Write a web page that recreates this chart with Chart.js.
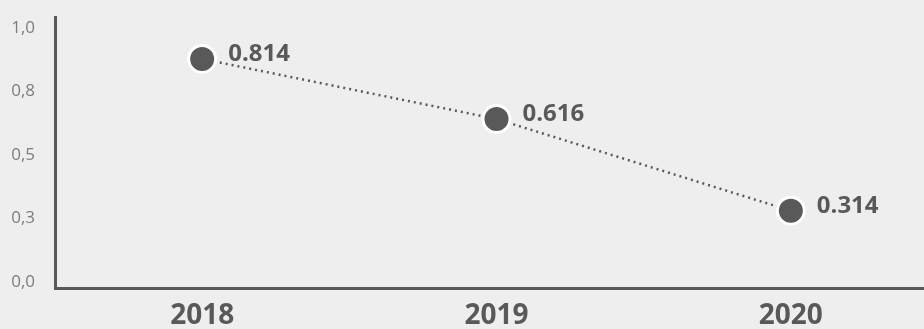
<!DOCTYPE html>
<html>
<head>
<meta charset="utf-8">
<script src="https://cdn.jsdelivr.net/npm/chart.js@4"></script>
<style>
  html, body { margin: 0; padding: 0; background: #eeeeee; overflow: hidden; }
  canvas { display: block; }
</style>
</head>
<body>
<canvas id="myLineChart" width="938" height="329"></canvas>
<script>
// Data for the line chart
const years = ["2018", "2019", "2020"];
const values = [0.814, 0.616, 0.314];
const yTicks = [0, 0.25, 0.5, 0.75, 1];

const ink = '#595959';

// Draws the value next to each point
const valueLabels = {
    id: 'valueLabels',
    afterDatasetsDraw(chart) {
        const ctx = chart.ctx;
        const meta = chart.getDatasetMeta(0);
        ctx.save();
        ctx.font = 'bold 24px "Open Sans"';
        ctx.fillStyle = ink;
        ctx.textAlign = 'left';
        ctx.textBaseline = 'middle';
        meta.data.forEach((pt, i) => {
            ctx.fillText(values[i].toFixed(3), pt.x + 26, pt.y - 5);
        });
        ctx.restore();
    }
};

const line_data = {
    labels: years,
    datasets: [{
        data: values,
        yAxisID: 'yData',
        borderColor: ink,
        borderWidth: 2.5,
        borderDash: [2, 4],
        pointRadius: 13.5,
        pointHoverRadius: 13.5,
        pointBackgroundColor: ink,
        pointBorderColor: '#ffffff',
        pointBorderWidth: 3,
        clip: false
    }]
};

const line_config = {
    type: 'line',
    data: line_data,
    plugins: [valueLabels],
    options: {
        responsive: false,
        animation: false,
        layout: { autoPadding: false, padding: { top: 17, right: 0, bottom: 0, left: 0 } },
        plugins: {
            legend: { display: false },
            tooltip: { enabled: false }
        },
        scales: {
            x: {
                offset: true,
                grid: { display: false, drawTicks: false },
                border: { display: true, color: ink, width: 3 },
                ticks: {
                    color: ink,
                    padding: 11,
                    font: { family: '"Open Sans"', size: 28, weight: 'bold' }
                },
                afterFit: (scale) => {
                    scale.height = 41;
                    scale.paddingLeft = 0;
                    scale.paddingRight = 0;
                }
            },
            y: {
                position: 'left',
                min: -0.0248,
                max: 1.0434,
                grid: { display: false, drawTicks: false },
                border: { display: true, color: ink, width: 3 },
                afterBuildTicks: (scale) => { scale.ticks = yTicks.map(v => ({ value: v })); },
                ticks: {
                    color: '#7d7d7d',
                    padding: 20,
                    font: { family: '"Open Sans"', size: 17 },
                    callback: (v) => Number(v).toFixed(1).replace('.', ',')
                },
                afterFit: (scale) => {
                    scale.width = 55;
                    scale.paddingTop = 0;
                    scale.paddingBottom = 0;
                }
            },
            yData: {
                display: false,
                min: 0.0596,
                max: 0.952
            }
        }
    }
};

const myLineChart = new Chart(document.getElementById('myLineChart'), line_config);
</script>
</body>
</html>
